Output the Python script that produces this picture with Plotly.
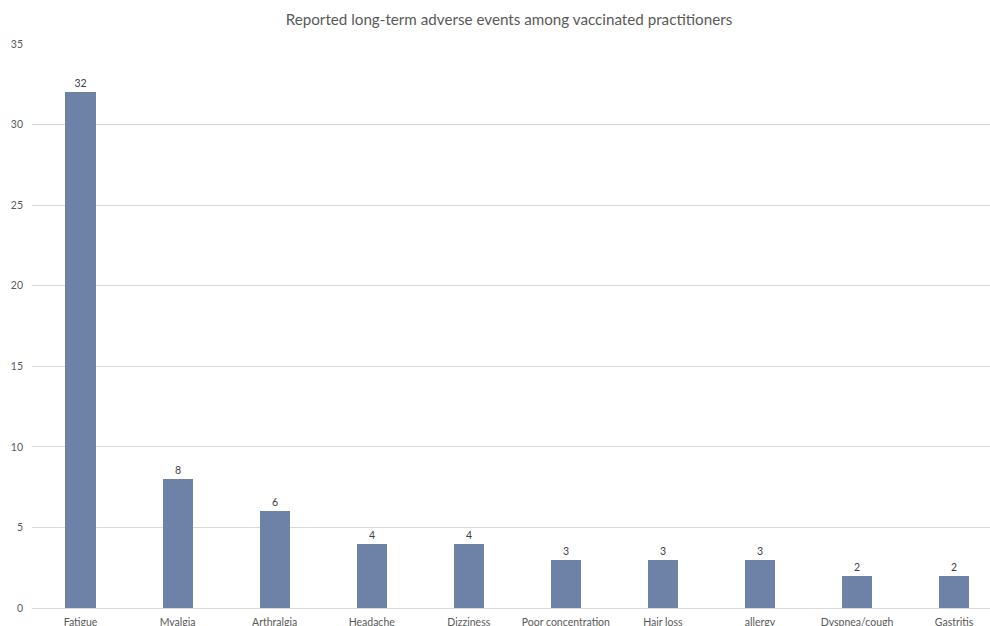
import plotly.graph_objects as go

# Reported long-term adverse events (counts)
categories = ["Fatigue", "Myalgia", "Arthralgia", "Headache", "Dizziness",
              "Poor concentration", "Hair loss", "allergy", "Dyspnea/cough", "Gastritis"]
counts = [32, 8, 6, 4, 4, 3, 3, 3, 2, 2]
y_ticks = [0, 5, 10, 15, 20, 25, 30, 35]

TEXT = "#595959"
FONT = "Lato, Open Sans, sans-serif"

fig = go.Figure(
    go.Bar(
        x=list(range(len(categories))),
        y=counts,
        width=0.31,
        marker=dict(color="#6E82A8", line=dict(width=0)),
        text=[str(v) for v in counts],
        textposition="outside",
        textfont=dict(size=10.5, color="#404040", family=FONT),
        cliponaxis=False,
    )
)

fig.update_layout(
    width=990,
    height=626,
    margin=dict(l=32, r=0, t=44, b=18),
    paper_bgcolor="white",
    plot_bgcolor="white",
    showlegend=False,
    title=dict(
        text="Reported long-term adverse events among vaccinated practitioners",
        x=509 / 990, xanchor="center", y=1 - 20 / 626, yanchor="middle",
        font=dict(size=15.2, color=TEXT, family=FONT),
    ),
    font=dict(family=FONT, color=TEXT),
    xaxis=dict(
        range=[-0.5, 9.37],
        tickmode="array",
        tickvals=list(range(len(categories))),
        ticktext=categories,
        showgrid=False,
        ticks="",
        ticklabelstandoff=6,
        tickfont=dict(size=10.5, color=TEXT),
        showline=False,
        zeroline=False,
        automargin=False,
    ),
    yaxis=dict(
        range=[0, 35],
        tickmode="array",
        tickvals=y_ticks,
        showgrid=True,
        gridcolor="#d9d9d9",
        gridwidth=1,
        zeroline=True,
        zerolinecolor="#d9d9d9",
        zerolinewidth=1,
        ticks="",
        ticklabelstandoff=8,
        tickfont=dict(size=10.5, color=TEXT),
        automargin=False,
    ),
    bargap=0,
)

fig.write_html("out.html")
